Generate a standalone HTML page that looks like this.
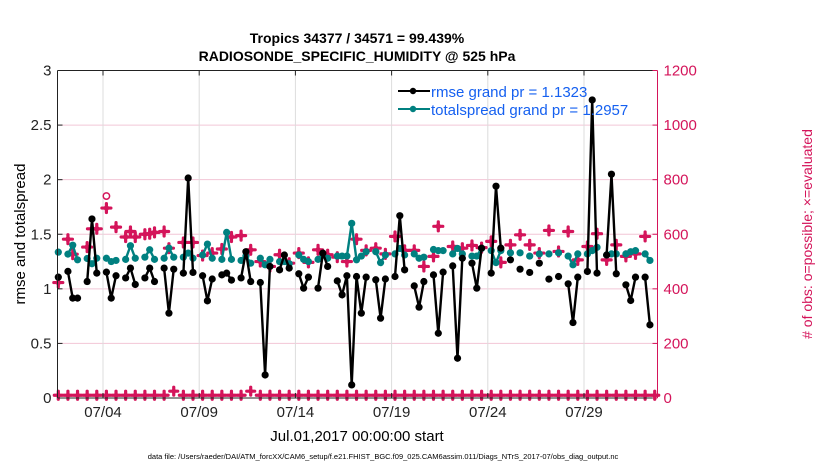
<!DOCTYPE html>
<html><head><meta charset="utf-8"><style>
body{margin:0;background:#fff;}
svg text{font-family:"Liberation Sans",sans-serif;}
</style></head><body>
<svg id="chart" width="830" height="470" viewBox="0 0 830 470" xmlns="http://www.w3.org/2000/svg">
<rect width="830" height="470" fill="#fff"/>
<text x="357" y="43" text-anchor="middle" font-size="14" font-weight="bold">Tropics 34377 / 34571 = 99.439%</text>
<text x="357" y="61" text-anchor="middle" font-size="14" font-weight="bold">RADIOSONDE_SPECIFIC_HUMIDITY @ 525 hPa</text>
<g id="grid"></g>
<g id="marks"></g>
<g id="axes"></g>
<text transform="translate(25,234) rotate(-90)" text-anchor="middle" font-size="15">rmse and totalspread</text>
<text transform="translate(812,234) rotate(-90)" text-anchor="middle" font-size="14" fill="#d4145a"># of obs: o=possible; ×=evaluated</text>
<text x="357" y="441" text-anchor="middle" font-size="15">Jul.01,2017 00:00:00 start</text>
<text x="383" y="459" text-anchor="middle" font-size="7.5">data file: /Users/raeder/DAI/ATM_forcXX/CAM6_setup/f.e21.FHIST_BGC.f09_025.CAM6assim.011/Diags_NTrS_2017-07/obs_diag_output.nc</text>
<g>
<line x1="398" y1="91" x2="430" y2="91" stroke="#000" stroke-width="2"/><circle cx="413" cy="91" r="3.2" fill="#000"/>
<text x="431" y="97" font-size="15" fill="#1560f0">rmse grand pr = 1.1323</text>
<line x1="398" y1="109" x2="430" y2="109" stroke="#008080" stroke-width="2"/><circle cx="413" cy="109" r="3.2" fill="#008080"/>
<text x="431" y="115" font-size="15" fill="#1560f0">totalspread grand pr = 1.2957</text>
</g>
</svg>
<script>
const N=null;
const rmse=[1.107,N,1.16,0.915,0.915,N,1.067,1.64,1.144,N,1.153,0.915,1.12,N,1.10,1.19,1.04,N,1.10,1.19,1.067,N,1.19,0.777,1.18,N,1.144,2.015,1.15,N,1.12,0.89,1.09,N,1.128,1.144,1.08,N,1.10,1.34,1.067,N,1.058,0.211,1.205,N,1.174,1.31,1.19,N,1.138,1.006,1.107,N,1.006,1.327,1.205,N,1.073,0.945,1.12,0.12,1.113,0.777,1.107,N,1.083,0.731,1.09,N,1.113,1.67,1.174,N,1.027,0.832,1.067,N,1.128,0.593,1.153,N,1.21,0.364,1.28,N,1.235,1.006,1.373,N,1.144,1.94,1.373,N,1.266,N,1.18,N,1.15,N,1.235,N,1.089,N,1.113,N,1.046,0.691,1.107,N,1.159,2.73,1.144,N,1.31,2.05,1.138,N,1.037,0.893,1.107,N,1.107,0.67];
const spread=[1.336,N,1.318,1.40,1.266,N,1.278,1.23,1.28,N,1.28,1.25,1.26,N,1.27,1.395,1.28,N,1.29,1.358,1.27,N,1.28,1.373,1.29,N,1.29,1.327,1.28,N,1.31,1.41,1.28,N,1.27,1.517,1.27,N,1.26,1.30,1.235,N,1.28,1.22,1.27,N,1.25,1.25,1.23,N,1.31,1.27,1.25,N,1.27,1.31,1.28,N,1.30,1.30,1.30,1.6,1.266,1.30,1.34,N,1.34,1.24,1.31,N,1.32,1.37,1.31,N,1.32,1.28,1.29,N,1.36,1.35,1.35,N,1.32,1.37,1.32,N,1.30,1.30,1.37,N,1.35,1.24,1.35,N,1.33,N,1.33,N,1.30,N,1.32,N,1.32,N,1.33,N,1.30,1.22,1.32,N,1.32,1.35,1.38,N,1.31,1.32,1.32,N,1.32,1.34,1.35,N,1.32,1.26];
const evaluated=[423,N,582,527,N,N,553,620,620,N,696,N,626,N,590,610,590,N,600,602,607,N,610,549,N,N,570,N,570,N,522,N,531,N,546,N,590,N,595,N,543,N,500,N,482,N,525,N,494,N,531,N,497,N,543,N,525,N,516,N,500,N,582,N,541,N,549,N,528,N,592,N,541,N,541,N,482,N,519,629,N,N,555,N,549,N,559,N,551,N,574,N,497,N,561,N,598,N,561,N,531,N,614,N,537,N,610,N,506,N,555,N,602,N,506,N,561,N,519,N,528,N,592,N];
const possibleHigh=[[10,740]];
const bottomCounts=[10,10,10,10,10,10,10,10,10,10,10,10,25,10,10,10,10,10,10,10,25,10,10,10,10,10,10,10,10,10,10,10,10,10,10,10,10,10,10,10,10,10,10,10,10,10,10,10,10,10,10,10,10,10,10,10,10,10,10,10,10,10,10];
const leftTicks=[0,0.5,1,1.5,2,2.5,3];
const rightTicks=[0,200,400,600,800,1000,1200];
const dateTicks=[3,8,13,18,23,28];
const dateLabels=["07/04","07/09","07/14","07/19","07/24","07/29"];
const firstDay=0.677, slotDays=0.25;

const X0=57.5,X1=657.5,Y0=398,Y1=70.5;
const xs=d=>103+(d-3)*19.24;
const yL=v=>Y0-(v/3)*(Y0-Y1);
const yR=c=>Y0-(c/1200)*(Y0-Y1);
const ns="http://www.w3.org/2000/svg";
function mk(parent,tag,attrs){const e=document.createElementNS(ns,tag);for(const k in attrs)e.setAttribute(k,attrs[k]);document.getElementById(parent).appendChild(e);return e;}
const RED="#d4145a";
rightTicks.forEach(c=>{if(c>0&&c<1200){const g=mk('grid','line',{x1:X0,x2:X1,y1:yR(c),y2:yR(c),stroke:'#f2c6d6','stroke-width':1});

}});
dateTicks.forEach(d=>{const g=mk('grid','line',{x1:xs(d),x2:xs(d),y1:Y1,y2:Y0,stroke:'#dcdcdc','stroke-width':1});

});
const sx=i=>xs(firstDay+i*slotDays);
function plusMark(x,y,s){
 const g=document.createElementNS(ns,'g');
 
 
 g.innerHTML=`<path d="M${x-s} ${y}H${x+s}M${x} ${y-s}V${y+s}" stroke="${RED}" stroke-width="3.2" stroke-linecap="round"/><circle cx="${x}" cy="${y}" r="${s*0.6}" fill="${RED}"/>`;
 document.getElementById('marks').appendChild(g);
}
bottomCounts.forEach((c,i)=>plusMark(sx(i*2),yR(c),4));
possibleHigh.forEach(p=>{const c=mk('marks','circle',{cx:sx(p[0]),cy:yR(p[1]),r:3.2,fill:'none',stroke:RED,'stroke-width':1.5});

});
evaluated.forEach((c,i)=>{if(c!==null)plusMark(sx(i),yR(c),4.5);});
function series(vals,color,name){
 let d='';let prev=null;
 vals.forEach((v,i)=>{if(v===null){prev=null;return;}d+=(prev===null?'M':'L')+sx(i).toFixed(1)+' '+yL(v).toFixed(1);prev=v;});
 const p=mk('marks','path',{d:d,fill:'none',stroke:color,'stroke-width':2.4});
 
 
 vals.forEach((v,i)=>{if(v===null)return;const c=mk('marks','circle',{cx:sx(i),cy:yL(v),r:3.6,fill:color});
 
 });
}
series(spread,'#008080','totalspread');
series(rmse,'#000','rmse');
const ax=[['line',{x1:X0,x2:X1,y1:Y1,y2:Y1,stroke:'#222'}],['line',{x1:X0,x2:X1,y1:Y0,y2:Y0,stroke:'#222'}],['line',{x1:X0,x2:X0,y1:Y1,y2:Y0,stroke:'#222'}],['line',{x1:X1,x2:X1,y1:Y1,y2:Y0,stroke:RED}]];
ax.forEach(a=>{const e=mk('axes',a[0],a[1]);

});
leftTicks.forEach(v=>{mk('axes','line',{x1:X0,x2:X0+5,y1:yL(v),y2:yL(v),stroke:'#222'});
const t=mk('axes','text',{x:X0-6,y:yL(v)+5,'text-anchor':'end','font-size':15,fill:'#222'});t.textContent=v;

});
rightTicks.forEach(c=>{mk('axes','line',{x1:X1-5,x2:X1,y1:yR(c),y2:yR(c),stroke:RED});
const t=mk('axes','text',{x:X1+6,y:yR(c)+5,'font-size':15,fill:RED});t.textContent=c;

});
dateTicks.forEach((d,i)=>{mk('axes','line',{x1:xs(d),x2:xs(d),y1:Y0,y2:Y0-5,stroke:'#222'});mk('axes','line',{x1:xs(d),x2:xs(d),y1:Y1,y2:Y1+5,stroke:'#222'});
const t=mk('axes','text',{x:xs(d),y:Y0+19,'text-anchor':'middle','font-size':15,fill:'#222'});t.textContent=dateLabels[i];

});
</script>
</body></html>
